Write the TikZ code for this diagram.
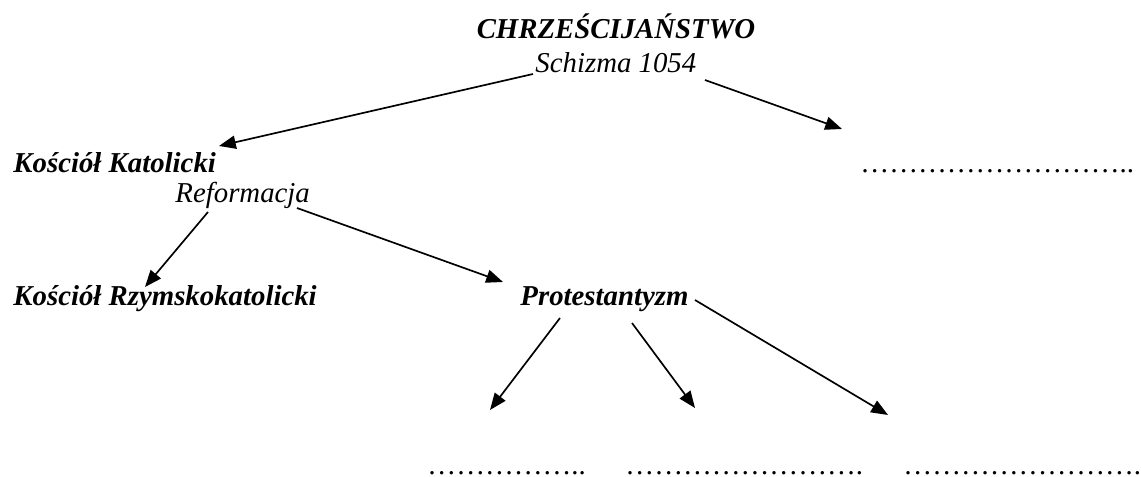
\documentclass[tikz,border=0pt]{standalone}
\usepackage{fontspec}
\setmainfont{Liberation Serif}
\usetikzlibrary{arrows.meta}
\newcommand{\wielokropek}[1]{\foreach \n in {1,...,#1}{…}}

\begin{document}
\begin{tikzpicture}[x=0.41667pt, y=-0.41667pt, every node/.style={inner sep=0pt, font=\fontsize{12}{14}\selectfont}]
\tikzstyle{nazwa}=[font=\fontsize{12}{14}\selectfont\bfseries\itshape, anchor=base west]
\tikzstyle{wydarzenie}=[font=\fontsize{12}{14}\selectfont\itshape, anchor=base west]
\tikzstyle{kropki}=[anchor=base west]
\tikzstyle{strzalka}=[line width=0.7pt, -{Triangle[length=7pt, width=5.5pt]}]
%%
\useasboundingbox (0,0) rectangle (1141,477);

\node (chrz) at (616,38) [nazwa, anchor=base] {CHRZEŚCIJAŃSTWO};
\node (schizma) at (535,72) [wydarzenie] {Schizma 1054};
\node (kk) at (13,172) [nazwa] {Kościół Katolicki};
\node (kropki1) at (860,172) [kropki] {\wielokropek{9}..};
\node (reformacja) at (175,203) [wydarzenie] {Reformacja};
\node (rzym) at (13,305) [nazwa] {Kościół Rzymskokatolicki};
\node (prot) at (520,305) [nazwa] {Protestantyzm};
\node (kropki2) at (427,474) [kropki] {\wielokropek{5}..};
\node (kropki3) at (625,474) [kropki] {\wielokropek{8}.};
\node (kropki4) at (903,474) [kropki] {\wielokropek{8}.};

\coordinate (k1) at (219,146);
\coordinate (k2) at (842,129);
\coordinate (k3) at (145,287);
\coordinate (k4) at (503,282);
\coordinate (k5) at (490,410);
\coordinate (k6) at (695,408);
\coordinate (k7) at (888,415);

\draw [strzalka] ([shift={(-2,2)}]schizma.base west) -- (k1);
\draw [strzalka] ([shift={(170,8)}]schizma.base west) -- (k2);
\draw [strzalka] ([shift={(33,9)}]reformacja.base west) -- (k3);
\draw [strzalka] ([shift={(122,5)}]reformacja.base west) -- (k4);
\draw [strzalka] ([shift={(40,13)}]prot.base west) -- (k5);
\draw [strzalka] ([shift={(112,18)}]prot.base west) -- (k6);
\draw [strzalka] ([shift={(175,-5)}]prot.base west) -- (k7);
\end{tikzpicture}
\end{document}
